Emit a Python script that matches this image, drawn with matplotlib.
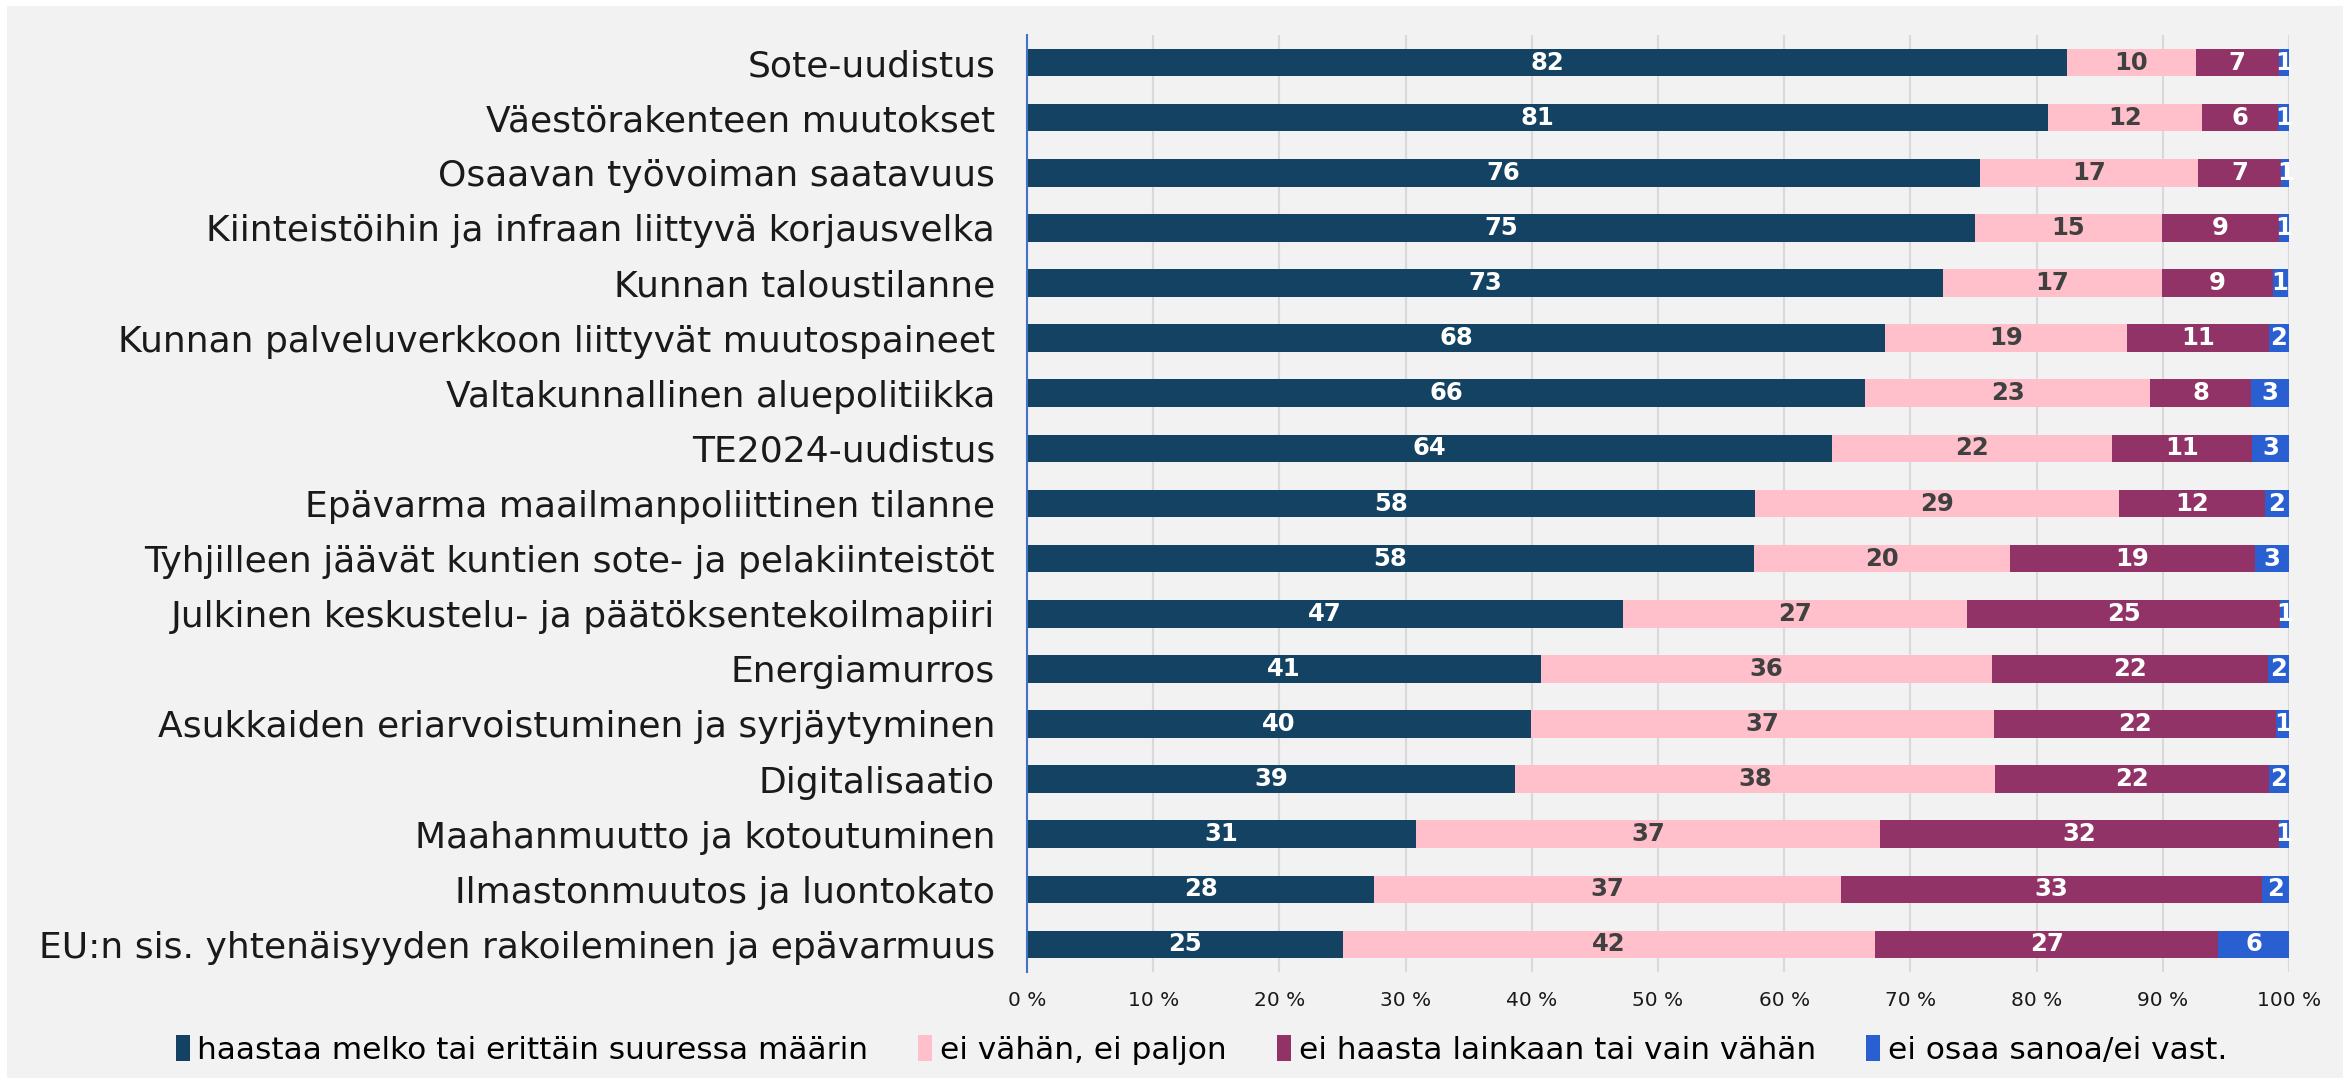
import matplotlib.pyplot as plt
from matplotlib.patches import Rectangle
import numpy as np

plt.rcParams['font.family'] = ['DejaVu Sans']

categories = [
    "Sote-uudistus",
    "Väestörakenteen muutokset",
    "Osaavan työvoiman saatavuus",
    "Kiinteistöihin ja infraan liittyvä korjausvelka",
    "Kunnan taloustilanne",
    "Kunnan palveluverkkoon liittyvät muutospaineet",
    "Valtakunnallinen aluepolitiikka",
    "TE2024-uudistus",
    "Epävarma maailmanpoliittinen tilanne",
    "Tyhjilleen jäävät kuntien sote- ja pelakiinteistöt",
    "Julkinen keskustelu- ja päätöksentekoilmapiiri",
    "Energiamurros",
    "Asukkaiden eriarvoistuminen ja syrjäytyminen",
    "Digitalisaatio",
    "Maahanmuutto ja kotoutuminen",
    "Ilmastonmuutos ja luontokato",
    "EU:n sis. yhtenäisyyden rakoileminen ja epävarmuus",
]

# haastaa melko tai erittäin suuressa määrin
haastaa = [82.4, 80.9, 75.5, 75.1, 72.6, 68.0, 66.4, 63.8, 57.7, 57.6, 47.2, 40.7, 39.9, 38.7, 30.8, 27.5, 25.0]
# ei vähän, ei paljon
ei_vahan = [10.2, 12.2, 17.3, 14.8, 17.3, 19.2, 22.6, 22.2, 28.8, 20.3, 27.3, 35.8, 36.7, 38.0, 36.8, 37.0, 42.2]
# ei haasta lainkaan tai vain vähän
ei_haasta = [6.6, 6.0, 6.6, 9.3, 8.8, 11.2, 8.0, 11.1, 11.6, 19.4, 24.8, 21.8, 22.4, 21.7, 31.6, 33.4, 27.2]
# ei osaa sanoa/ei vast.
eos = [0.8, 0.9, 0.6, 0.8, 1.2, 1.6, 3.0, 2.9, 1.9, 2.7, 0.7, 1.7, 1.0, 1.6, 0.8, 2.1, 5.6]

series = [
    ("haastaa melko tai erittäin suuressa määrin", haastaa, "#134263", "white"),
    ("ei vähän, ei paljon", ei_vahan, "#ffc0cc", "#404040"),
    ("ei haasta lainkaan tai vain vähän", ei_haasta, "#913366", "white"),
    ("ei osaa sanoa/ei vast.", eos, "#2a5fd2", "white"),
]

fig = plt.figure(figsize=(23.51, 10.88), dpi=100, facecolor="white")
fig.patches.append(Rectangle((7 / 2351, 10 / 1088), 1 - 15 / 2351, 1 - 16 / 1088,
                             transform=fig.transFigure, facecolor="#f2f2f2",
                             edgecolor="none", zorder=-10))
ax = fig.add_axes([1027 / 2351, 1 - 972 / 1088, 1262 / 2351, 937 / 1088])
ax.set_facecolor("#f2f2f2")

y = np.arange(len(categories))
left = np.zeros(len(categories))
for name, vals, col, tcol in series:
    vals = np.array(vals)
    bars = ax.barh(y, vals, left=left, height=0.5, color=col, label=name, zorder=3)
    for yi, l, v in zip(y, left, vals):
        ax.text(l + v / 2, yi, f"{round(v)}", ha="center", va="center",
                color=tcol, fontsize=17.5, fontweight="bold", zorder=4)
    left += vals

ax.set_xlim(0, 100)
ax.set_ylim(len(categories) - 0.5, -0.5)
ax.set_yticks(y)
ax.set_yticklabels(categories, fontsize=26, color="#1a1a1a")
ax.set_xticks(np.arange(0, 101, 10))
ax.set_xticklabels([f"{t} %" for t in range(0, 101, 10)], fontsize=14.5, color="#1a1a1a")
ax.tick_params(axis="y", length=0, pad=23)
ax.tick_params(axis="x", length=0, pad=14)
ax.grid(axis="x", color="#d9d9d9", linewidth=1.5, zorder=0)
for s in ["top", "right", "bottom"]:
    ax.spines[s].set_visible(False)
ax.spines["left"].set_color("#4472c4")
ax.spines["left"].set_linewidth(1.5)
ax.spines["left"].set_zorder(5)

fig.legend(loc="center", bbox_to_anchor=(0.511, 0.035), ncol=4, frameon=False,
           fontsize=22.5, handlelength=0.45, handleheight=0.9, handletextpad=0.25,
           columnspacing=1.6)

fig.savefig("out.png", dpi=100, facecolor="white")
